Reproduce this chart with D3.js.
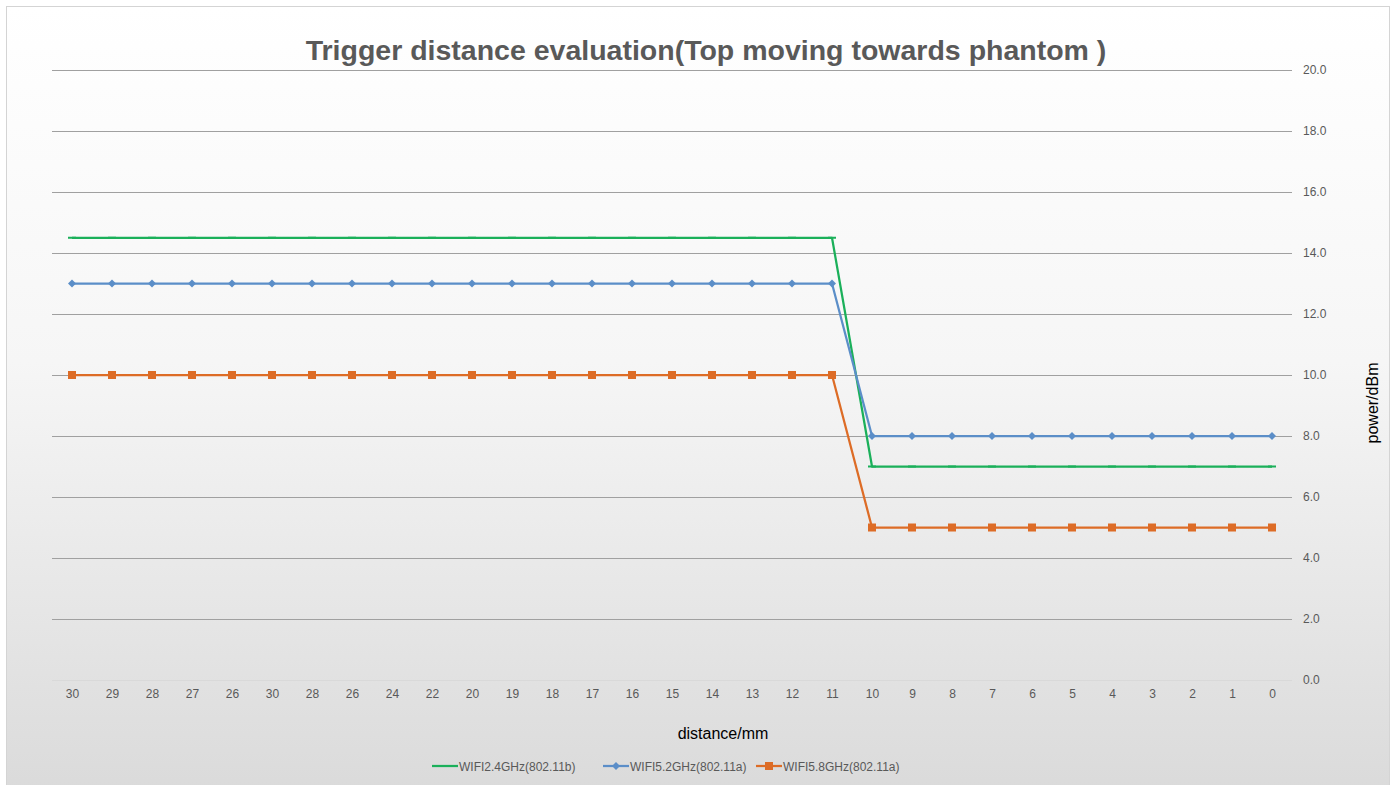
<!DOCTYPE html>
<html>
<head>
<meta charset="utf-8">
<script src="https://cdn.jsdelivr.net/npm/d3@7"></script>
<style>
  body { margin: 0; background: #fff; }
  svg { display: block; font-family: "Liberation Sans", Arial, sans-serif; }
</style>
</head>
<body>
<svg id="chart" width="1397" height="785"></svg>
<script>
// categories (distance/mm) - as shown on the axis, duplicates included
const distances = ["30","29","28","27","26","30","28","26","24","22","20","19","18","17","16","15","14","13","12","11","10","9","8","7","6","5","4","3","2","1","0"];

const wifi24 = [14.5,14.5,14.5,14.5,14.5,14.5,14.5,14.5,14.5,14.5,14.5,14.5,14.5,14.5,14.5,14.5,14.5,14.5,14.5,14.5,7,7,7,7,7,7,7,7,7,7,7];
const wifi52 = [13,13,13,13,13,13,13,13,13,13,13,13,13,13,13,13,13,13,13,13,8,8,8,8,8,8,8,8,8,8,8];
const wifi58 = [10,10,10,10,10,10,10,10,10,10,10,10,10,10,10,10,10,10,10,10,5,5,5,5,5,5,5,5,5,5,5];

const yTicks = [0, 2, 4, 6, 8, 10, 12, 14, 16, 18, 20];

const series = [
  { name: "WIFI2.4GHz(802.11b)", values: wifi24, color: "#1bb05a", marker: "dash" },
  { name: "WIFI5.2GHz(802.11a)", values: wifi52, color: "#5b8ec8", marker: "diamond" },
  { name: "WIFI5.8GHz(802.11a)", values: wifi58, color: "#dd6c26", marker: "square" }
];

const svg = d3.select("#chart");
const W = 1397, H = 785;
const plot = { left: 52, right: 1292, top: 70, bottom: 680 };

// background gradient + frame
const defs = svg.append("defs");
const grad = defs.append("linearGradient").attr("id", "bg").attr("x1", 0).attr("y1", 0).attr("x2", 0).attr("y2", 1);
grad.append("stop").attr("offset", "0%").attr("stop-color", "#ffffff");
grad.append("stop").attr("offset", "45%").attr("stop-color", "#f6f6f6");
grad.append("stop").attr("offset", "100%").attr("stop-color", "#dadada");

svg.append("rect").attr("width", W).attr("height", H).attr("fill", "#fff");
svg.append("rect")
  .attr("x", 6.5).attr("y", 6.5).attr("width", 1383).attr("height", 790)
  .attr("fill", "url(#bg)").attr("stroke", "#d4d4d4").attr("stroke-width", 1);

const x = d3.scalePoint()
  .domain(d3.range(distances.length))
  .range([plot.left, plot.right])
  .padding(0.5);

const y = d3.scaleLinear().domain([0, 20]).range([plot.bottom, plot.top]);

// gridlines
svg.append("g").selectAll("line")
  .data(yTicks)
  .join("line")
  .attr("x1", plot.left).attr("x2", plot.right)
  .attr("y1", d => Math.round(y(d)) + 0.5).attr("y2", d => Math.round(y(d)) + 0.5)
  .attr("stroke", d => d === 0 ? "#d9d9d9" : "#a0a0a0")
  .attr("stroke-width", 1);

// right y axis labels
const yAxis = d3.axisRight(y).tickValues(yTicks).tickFormat(d3.format(".1f")).tickSize(0).tickPadding(11);
const yg = svg.append("g").attr("transform", `translate(${plot.right},0)`).call(yAxis);
yg.select(".domain").remove();
yg.selectAll("text").attr("fill", "#595959").style("font-size", "12px");

// x axis labels
const xAxis = d3.axisBottom(x).tickFormat(i => distances[i]).tickSize(0).tickPadding(9);
const xg = svg.append("g").attr("transform", `translate(0,${plot.bottom})`).call(xAxis);
xg.select(".domain").remove();
xg.selectAll("text").attr("fill", "#595959").style("font-size", "12px");

// title
svg.append("text")
  .attr("x", 706).attr("y", 60)
  .attr("text-anchor", "middle")
  .attr("fill", "#595959")
  .style("font-size", "28.5px").style("font-weight", "bold")
  .text("Trigger distance evaluation(Top moving towards phantom )");

// axis titles
svg.append("text")
  .attr("x", 723).attr("y", 739)
  .attr("text-anchor", "middle")
  .attr("fill", "#000")
  .style("font-size", "16px")
  .text("distance/mm");

svg.append("text")
  .attr("transform", "translate(1378,403) rotate(-90)")
  .attr("text-anchor", "middle")
  .attr("fill", "#000")
  .style("font-size", "16px")
  .text("power/dBm");

// lines
const line = d3.line().x((d, i) => x(i)).y(d => y(d));

function drawMarker(g, type, color, cx, cy) {
  if (type === "diamond") {
    g.append("path")
      .attr("d", `M${cx},${cy - 4}L${cx + 4},${cy}L${cx},${cy + 4}L${cx - 4},${cy}Z`)
      .attr("fill", color);
  } else if (type === "square") {
    g.append("rect")
      .attr("x", cx - 4).attr("y", cy - 4).attr("width", 8).attr("height", 8)
      .attr("fill", color);
  } else {
    g.append("rect")
      .attr("x", cx - 4).attr("y", cy - 1).attr("width", 8).attr("height", 2)
      .attr("fill", color);
  }
}

series.forEach(s => {
  svg.append("path")
    .datum(s.values)
    .attr("d", line)
    .attr("fill", "none")
    .attr("stroke", s.color)
    .attr("stroke-width", 2.25)
    .attr("stroke-linejoin", "round");
  const mg = svg.append("g");
  s.values.forEach((v, i) => drawMarker(mg, s.marker, s.color, x(i), y(v)));
});

// legend
const legendX = [432, 603, 756];
const lg = svg.append("g");
series.forEach((s, k) => {
  const lx = legendX[k], ly = 766;
  lg.append("line")
    .attr("x1", lx).attr("x2", lx + 26).attr("y1", ly).attr("y2", ly)
    .attr("stroke", s.color).attr("stroke-width", 2.25);
  if (s.marker !== "dash") drawMarker(lg, s.marker, s.color, lx + 13, ly);
  lg.append("text")
    .attr("x", lx + 27).attr("y", ly + 4.5)
    .attr("fill", "#595959")
    .style("font-size", "12px")
    .text(s.name);
});
</script>
</body>
</html>
